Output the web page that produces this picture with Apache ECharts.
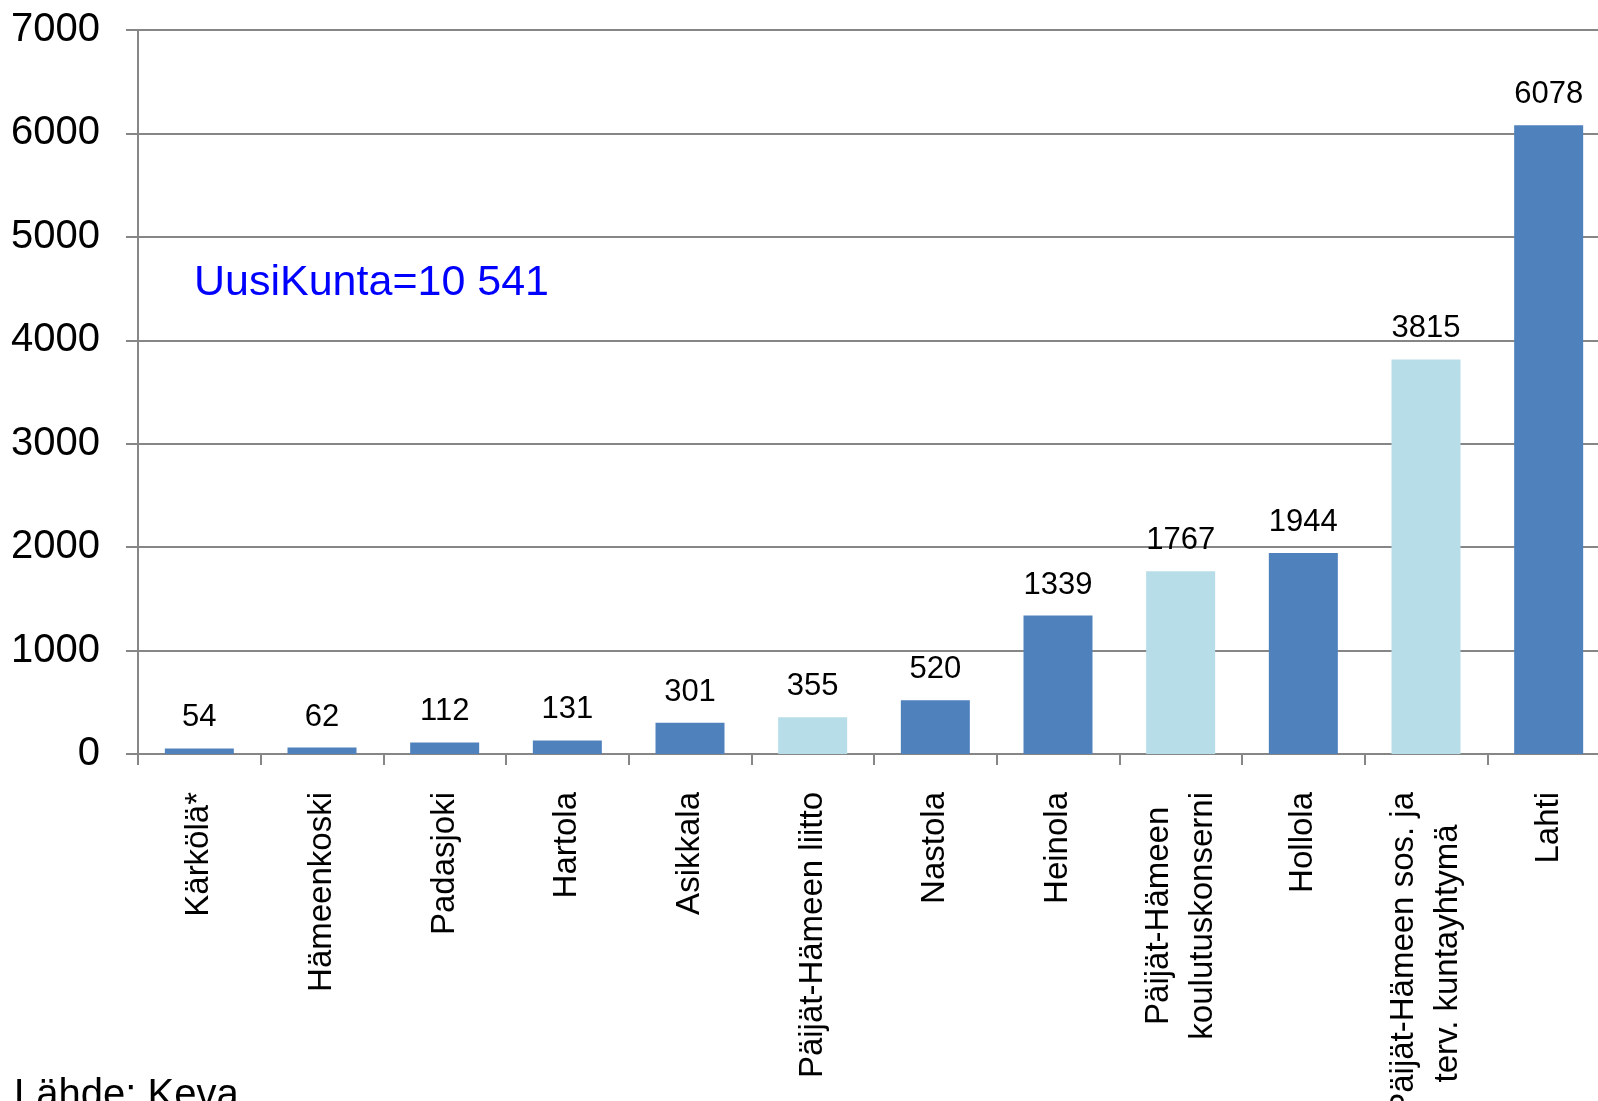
<!DOCTYPE html>
<html>
<head>
<meta charset="utf-8">
<script src="https://cdn.jsdelivr.net/npm/echarts@6/dist/echarts.min.js"></script>
<style>
  html, body { margin: 0; padding: 0; background: #fff; }
  #chart { width: 1598px; height: 1101px; }
</style>
</head>
<body>
<div id="chart"></div>
<script>
// kategoriat (kunnat ja kuntayhtymät)
const categories = [
  "Kärkölä*", "Hämeenkoski", "Padasjoki", "Hartola", "Asikkala",
  "Päijät-Hämeen liitto", "Nastola", "Heinola",
  "Päijät-Hämeen\nkoulutuskonserni", "Hollola",
  "Päijät-Hämeen sos. ja\nterv. kuntayhtymä", "Lahti"
];
// kunnat (tummansininen)
const kunnat = [54, 62, 112, 131, 301, "-", 520, 1339, "-", 1944, "-", 6078];
// kuntayhtymät (vaaleansininen)
const yhtymat = ["-", "-", "-", "-", "-", 355, "-", "-", 1767, "-", 3815, "-"];
const yTicks = [0, 1000, 2000, 3000, 4000, 5000, 6000, 7000];
const noteText = "UusiKunta=10 541";
const sourceText = "Lähde: Keva";

const chart = echarts.init(document.getElementById("chart"));

const catFont = "Liberation Sans Narrow, Liberation Sans, Arial, sans-serif";

const labelStyle = {
  show: true,
  position: "top",
  distance: 15,
  color: "#000",
  fontSize: 31,
  fontFamily: "Liberation Sans, Arial, sans-serif"
};

const option = {
  animation: false,
  grid: {
    left: 138,
    right: -12,
    top: 30,
    bottom: 347,
    outerBoundsMode: "none",
    containLabel: false
  },
  xAxis: {
    type: "category",
    data: categories,
    axisLine: { lineStyle: { color: "#868686", width: 2 } },
    axisTick: { show: true, length: 11, lineStyle: { color: "#868686", width: 2 } },
    axisLabel: {
      interval: 0,
      rotate: 90,
      margin: 38,
      color: "#000",
      fontSize: 33,
      fontFamily: catFont,
      formatter: function (value) {
        return value.split("\n").map((s) => "{c|" + s + "}").join("\n");
      },
      rich: {
        c: {
          align: "center",
          fontSize: 33,
          lineHeight: 44,
          color: "#000",
          fontFamily: catFont
        }
      }
    }
  },
  yAxis: {
    type: "value",
    min: yTicks[0],
    max: yTicks[yTicks.length - 1],
    interval: 1000,
    axisLine: { show: true, lineStyle: { color: "#868686", width: 2 } },
    axisTick: { show: true, length: 12, lineStyle: { color: "#868686", width: 2 } },
    splitLine: { lineStyle: { color: "#868686", width: 2 } },
    axisLabel: {
      margin: 38,
      color: "#000",
      fontSize: 40,
      fontFamily: "Liberation Sans, Arial, sans-serif",
      formatter: (v) => String(v)
    }
  },
  series: [
    {
      name: "kunnat",
      type: "bar",
      stack: "all",
      data: kunnat,
      barWidth: 69,
      itemStyle: { color: "#4F81BD" },
      label: labelStyle
    },
    {
      name: "yhtymat",
      type: "bar",
      stack: "all",
      data: yhtymat,
      barWidth: 69,
      itemStyle: { color: "#B7DDE8" },
      label: labelStyle
    }
  ],
  graphic: [
    {
      type: "text",
      left: 194,
      top: 262,
      style: {
        text: noteText,
        fill: "#0000FF",
        font: "43px Liberation Sans, Arial, sans-serif"
      }
    },
    {
      type: "text",
      left: 14,
      top: 1076,
      style: {
        text: sourceText,
        fill: "#000",
        font: "40px Liberation Sans, Arial, sans-serif"
      }
    }
  ]
};

chart.setOption(option);
</script>
</body>
</html>
